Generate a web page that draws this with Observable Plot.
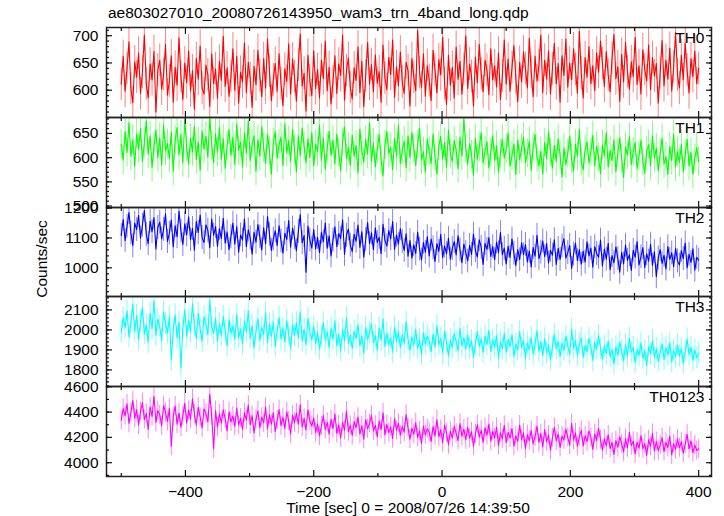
<!DOCTYPE html>
<html><head><meta charset="utf-8">
<script src="https://cdn.jsdelivr.net/npm/d3@7"></script>
<script src="https://cdn.jsdelivr.net/npm/@observablehq/plot@0.6"></script>
<style>
body{margin:0;background:#fff;font-family:"Liberation Sans",Arial,sans-serif;}
#wrap{position:relative;width:724px;height:516px;overflow:hidden;}
.pn{position:absolute;left:0;}
#title{position:absolute;left:108px;top:4px;font-size:15.5px;color:#000;white-space:nowrap;}
#ylab{position:absolute;left:42px;top:259px;font-size:15.5px;transform:translate(-50%,-50%) rotate(-90deg);white-space:nowrap;}
#xlab{position:absolute;left:408px;top:499px;font-size:15.5px;transform:translateX(-50%);white-space:nowrap;}
</style></head>
<body><div id="wrap"><div id="title">ae803027010_20080726143950_wam3_trn_4band_long.qdp</div><div id="ylab">Counts/sec</div><div id="xlab">Time [sec] 0 = 2008/07/26 14:39:50</div></div>
<script>
// time bins: start and step (sec)
const tStart = -500, tStep = 3;
const xDomain = [-523, 420];
const xMajor = [-400, -200, 0, 200, 400];
const xMinor = [-500, -300, -100, 100, 300];

const th0 = [611,662,598,640,689,603,577,652,624,668,
594,633,701,612,586,648,619,671,560,637,
655,602,629,684,591,617,663,578,642,609,
696,625,583,650,614,672,599,636,565,658,
620,681,604,593,646,628,570,667,612,639,
585,653,618,699,607,641,589,625,676,600,
662,576,633,615,687,596,651,622,569,644,
610,673,627,588,658,604,694,635,581,619,
649,598,667,612,572,639,616,685,593,657,
625,580,646,703,608,631,562,664,617,590,
672,603,638,586,655,621,690,599,642,575,
615,663,594,648,627,701,582,636,659,605,
584,641,618,679,596,653,570,626,688,611,
647,597,665,613,634,578,683,622,601,660,
629,692,587,643,608,670,615,594,651,636,
571,658,624,599,710,632,605,667,589,645,
618,581,673,637,595,656,628,697,612,574,
664,609,642,586,679,620,653,593,638,700,
603,648,625,571,661,614,684,630,597,655,
637,592,676,619,645,606,668,583,626,692,
611,657,598,641,682,623,579,651,615,670,
640,604,695,633,588,662,617,645,701,596,
655,620,672,593,639,686,612,649,578,663,
627,694,606,650,619,676,638,595,708,631,
586,660,624,680,612,645,599,668,633,690,
649,607,671,628,597,659,702,621,643,580,
666,615,688,634,602,652,625,697,611,645,
593,674,638,617,683,601,660,626,649,576,
632,691,608,655,620,677,598,643,706,628,
604,664,619,686,637,595,658,625,672,612,640];
const th1 = [628,595,654,611,672,603,637,583,649,618,
660,592,631,676,607,645,580,622,657,600,
641,585,668,614,629,598,653,572,636,662,
606,647,590,679,621,587,640,612,665,596,
633,574,655,618,644,601,683,626,589,650,
611,663,597,639,578,624,658,605,642,586,
669,615,632,581,651,609,676,594,628,645,
572,637,603,664,620,588,648,613,566,631,
654,599,627,642,584,670,610,635,592,658,
617,571,645,604,661,623,589,639,600,652,
583,628,612,667,594,641,576,619,655,605,
636,587,649,610,573,633,664,598,621,584,
646,603,625,568,659,614,591,637,607,672,
593,630,581,617,648,596,562,626,654,609,
621,575,640,603,667,588,615,634,579,645,
600,652,619,584,627,661,595,612,570,638,
613,588,649,602,566,624,644,597,631,580,
657,608,592,635,615,577,642,603,681,620,
586,629,606,563,640,597,621,652,589,614,
633,579,611,645,594,625,570,608,638,599,
617,651,583,604,628,565,637,596,619,642,
590,609,634,574,622,648,600,583,613,566,
631,598,653,611,578,625,592,639,605,560,
620,586,609,644,597,572,628,603,658,592,
575,616,633,589,612,646,583,624,600,567,
626,604,652,581,615,594,637,571,609,641,
597,559,622,605,643,586,612,631,578,604,
636,592,568,614,627,583,645,599,620,573,
608,640,587,602,565,623,594,648,581,612,
590,627,571,604,638,583,611,566,599,621,592];
const th2 = [1108,1162,1091,1139,1185,1117,1074,1150,1128,1176,
1099,1143,1192,1112,1081,1156,1121,1168,1063,1135,
1153,1097,1129,1181,1088,1116,1160,1070,1141,1104,
1189,1123,1078,1147,1110,1171,1094,1132,1059,1155,
1118,1177,1101,1085,1144,1126,1067,1163,1109,1138,
1072,1131,1098,1166,1083,1120,1061,1104,1150,1079,
1138,1052,1110,1093,1163,1071,1127,1100,1046,1119,
1086,1145,1103,1060,1134,1080,1172,1112,1058,1096,
1124,1075,1141,1090,1049,1116,1095,1158,1069,1133,
1101,1057,1122,1178,1084,1108,985,1140,1093,1066,
1128,1063,1102,1051,1119,1087,1150,1066,1107,1040,
1093,1137,1071,1115,1098,1161,1045,1109,1130,1076,
1054,1112,1089,1143,1068,1121,1036,1095,1152,1081,
1117,1061,1134,1085,1102,1047,1146,1092,1073,1125,
1097,1155,1062,1110,1079,1131,1088,1058,1114,1039,
1091,1032,1077,1048,1119,1063,1026,1085,1052,1104,
1040,1096,1067,1021,1081,1055,1112,1034,1073,1047,
1099,1029,1064,1088,1043,1107,1060,1017,1080,1051,
1023,1075,1045,1113,1058,1036,1094,1069,1011,1082,
1062,1101,1038,1071,1027,1086,1050,1118,1044,1066,
1013,1072,1035,1097,1049,1008,1061,1027,1084,1044,
1078,1020,1056,1003,1068,1039,1109,1031,1052,1090,
1037,1081,1016,1059,1042,1094,1011,1065,1028,1073,
1098,1033,1051,1075,998,1046,1083,1024,1060,1012,
1055,1019,1087,1040,1066,1002,1071,1048,1035,1093,
1006,1063,1029,1082,994,1041,1017,1070,1031,985,
1052,1013,1076,1025,1044,991,1059,1036,1088,1010,
1037,1068,1001,1047,1022,1079,1008,1054,970,1033,
1061,1015,1042,996,1071,1028,1050,1004,1066,1023,
1009,1058,1031,1083,1000,1045,1018,1064,992,1035,1026];
const th3 = [1988,2061,2012,2094,1965,2037,2128,1994,2072,1951,
2043,2110,1979,2025,1938,2083,2006,2147,1972,2054,
2019,1946,2090,2031,1984,2065,1850,2002,2076,1960,
2039,1810,2011,2101,1968,2049,1990,2132,2023,1957,
2084,2005,1942,2066,2027,1976,2150,2014,1983,2058,
1945,2032,1971,2068,1996,1921,2050,1983,2019,1952,
2077,1962,2004,1930,2043,1988,2096,1957,2021,1909,
1993,2056,1948,2012,1976,2085,1936,2029,1967,2040,
1918,1997,2063,1955,2008,1939,2046,1981,1906,2025,
1972,2036,1960,2091,1944,2003,1926,2058,1985,1950,
2018,1931,1985,1903,1966,2037,1949,1992,1912,2008,
1954,2046,1921,1978,1895,2002,1944,2061,1932,1975,
1907,1993,1958,2025,1920,1969,1884,2013,1951,1987,
2030,1936,1972,1899,2009,1948,2054,1917,1983,1926,
1962,1889,2016,1941,1990,1910,1975,1934,2040,1952,
1898,1965,1923,2003,1907,1952,1876,1986,1930,1968,
1944,1891,1979,1915,2021,1926,1958,1883,1994,1937,
1870,1951,1912,1983,1940,1896,2008,1921,1961,1904,
1975,1909,1946,1862,1930,1990,1918,1955,1887,1969,
1927,1998,1893,1950,1913,1973,1859,1939,1906,1984,
1889,1952,1917,1975,1868,1930,1899,1991,1911,1947,
1855,1936,1902,1962,1879,1925,1996,1893,1940,1871,
1957,1884,1926,1850,1913,1978,1905,1942,1866,1933,
1898,1968,1920,1877,2004,1909,1945,1873,1929,1961,
1862,1922,1890,1957,1915,1848,1938,1901,1972,1907,
1853,1921,1880,1944,1866,1902,1829,1915,1873,1938,
1896,1845,1927,1868,1960,1889,1912,1837,1901,1871,
1934,1858,1895,1822,1917,1880,1948,1862,1906,1843,
1887,1929,1851,1910,1875,1936,1840,1898,1866,1925,
1869,1907,1834,1892,1954,1876,1913,1848,1899,1861,1883];
const th0123 = [4335,4428,4372,4465,4310,4398,4490,4352,4420,4298,
4405,4475,4340,4388,4262,4440,4365,4525,4318,4412,
4378,4290,4452,4395,4326,4430,4130,4362,4448,4305,
4392,4280,4370,4470,4315,4415,4343,4505,4385,4296,
4438,4360,4275,4425,4388,4322,4540,4370,4110,4412,
4280,4385,4312,4418,4345,4250,4402,4322,4368,4286,
4432,4298,4352,4262,4395,4338,4455,4300,4372,4235,
4342,4410,4276,4360,4315,4440,4268,4380,4305,4395,
4246,4336,4420,4292,4358,4270,4402,4328,4228,4375,
4315,4392,4304,4458,4282,4350,4258,4418,4330,4290,
4352,4238,4305,4212,4290,4372,4262,4320,4225,4342,
4270,4385,4232,4298,4196,4318,4255,4408,4245,4296,
4215,4325,4276,4360,4228,4292,4185,4340,4268,4310,
4375,4250,4296,4205,4330,4262,4395,4220,4302,4238,
4283,4190,4348,4255,4312,4218,4288,4242,4380,4275,
4186,4272,4225,4315,4198,4252,4150,4290,4220,4268,
4240,4168,4285,4212,4340,4205,4262,4158,4298,4235,
4142,4250,4196,4288,4232,4175,4310,4210,4265,4180,
4282,4192,4245,4130,4226,4300,4202,4258,4160,4275,
4218,4305,4170,4248,4195,4280,4135,4238,4188,4295,
4158,4240,4195,4270,4130,4212,4168,4298,4182,4236,
4110,4222,4175,4255,4148,4205,4290,4160,4230,4125,
4262,4165,4218,4098,4196,4280,4172,4226,4120,4210,
4180,4265,4200,4138,4310,4178,4235,4128,4205,4255,
4132,4212,4166,4250,4198,4105,4228,4175,4272,4180,
4100,4188,4135,4220,4112,4160,4065,4175,4122,4205,
4148,4085,4190,4118,4240,4135,4170,4070,4162,4115,
4215,4110,4152,4058,4182,4128,4232,4092,4168,4095,
4140,4198,4088,4160,4120,4210,4062,4150,4105,4186,
4118,4165,4075,4145,4225,4108,4172,4080,4138,4096,4110];

const names = ["TH0", "TH1", "TH2", "TH3", "TH0123"];
const colors = ["#ff0000", "#00ff00", "#0000ff", "#00ffff", "#ff00ff"];
const errors = [30, 30, 40, 55, 75];
const yDomains = [[550, 715], [497, 683], [904, 1202], [1717, 2167], [3891, 4602]];
const yLabels = [[600, 650, 700], [500, 550, 600, 650], [1000, 1100, 1200], [1800, 1900, 2000, 2100], [4000, 4200, 4400, 4600]];
const yMinorStep = [10, 10, 20, 20, 100];
const series = [th0, th1, th2, th3, th0123];

const frameTops = [27, 117, 207, 296, 386, 476];
const wrap = document.getElementById("wrap");
const intFmt = d3.format("d");

series.forEach((vals, i) => {
  const data = vals.map((v, k) => ({t: tStart + k * tStep, v}));
  const err = errors[i];
  const [lo, hi] = yDomains[i];
  const minor = d3.range(Math.ceil(lo / yMinorStep[i]) * yMinorStep[i], hi, yMinorStep[i]);
  const last = i === series.length - 1;
  const mt = 12, mb = last ? 40 : 12;
  const h = frameTops[i + 1] - frameTops[i];
  const tick = {stroke: "#111", strokeWidth: 1.2};
  const chart = Plot.plot({
    width: 724,
    height: h + mt + mb,
    marginLeft: 106, marginRight: 13, marginTop: mt, marginBottom: mb,
    style: {background: "none", overflow: "visible", fontSize: "15.5px", fontFamily: "'Liberation Sans', Arial, sans-serif", color: "#000"},
    x: {domain: xDomain, label: null},
    y: {domain: [lo, hi], label: null},
    marks: [
      Plot.ruleX(data, {x: "t", y1: d => d.v - err, y2: d => d.v + err, stroke: colors[i], strokeOpacity: 0.5, strokeWidth: 1, clip: true}),
      Plot.line(data, {x: "t", y: "v", stroke: colors[i], strokeWidth: 1.1, clip: true}),
      Plot.frame({stroke: "#222", strokeWidth: 1.5}),
      Plot.axisY(yLabels[i], {anchor: "left", tickSize: 0, tickPadding: 8, tickFormat: intFmt, label: null}),
      Plot.axisY(yLabels[i], {anchor: "left", tickSize: -6, tickFormat: () => "", label: null, ...tick}),
      Plot.axisY(yLabels[i], {anchor: "right", tickSize: -6, tickFormat: () => "", label: null, ...tick}),
      Plot.axisY(minor, {anchor: "left", tickSize: -3, tickFormat: () => "", label: null, ...tick}),
      Plot.axisY(minor, {anchor: "right", tickSize: -3, tickFormat: () => "", label: null, ...tick}),
      Plot.axisX(xMajor, {anchor: "top", tickSize: -6, tickFormat: () => "", label: null, ...tick}),
      Plot.axisX(xMajor, {anchor: "bottom", tickSize: -6, tickFormat: () => "", label: null, ...tick}),
      Plot.axisX(xMinor, {anchor: "top", tickSize: -3, tickFormat: () => "", label: null, ...tick}),
      Plot.axisX(xMinor, {anchor: "bottom", tickSize: -3, tickFormat: () => "", label: null, ...tick}),
      last ? Plot.axisX(xMajor, {anchor: "bottom", tickSize: 0, tickPadding: 9, label: null}) : null,
      Plot.text([names[i]], {text: d => d, frameAnchor: "top-right", textAnchor: "end", lineAnchor: "top", dx: -7, dy: 4, fontSize: 15.5, fill: "#000"})
    ]
  });
  chart.classList.add("pn");
  chart.style.top = (frameTops[i] - mt) + "px";
  wrap.appendChild(chart);
});
</script>
</body></html>
